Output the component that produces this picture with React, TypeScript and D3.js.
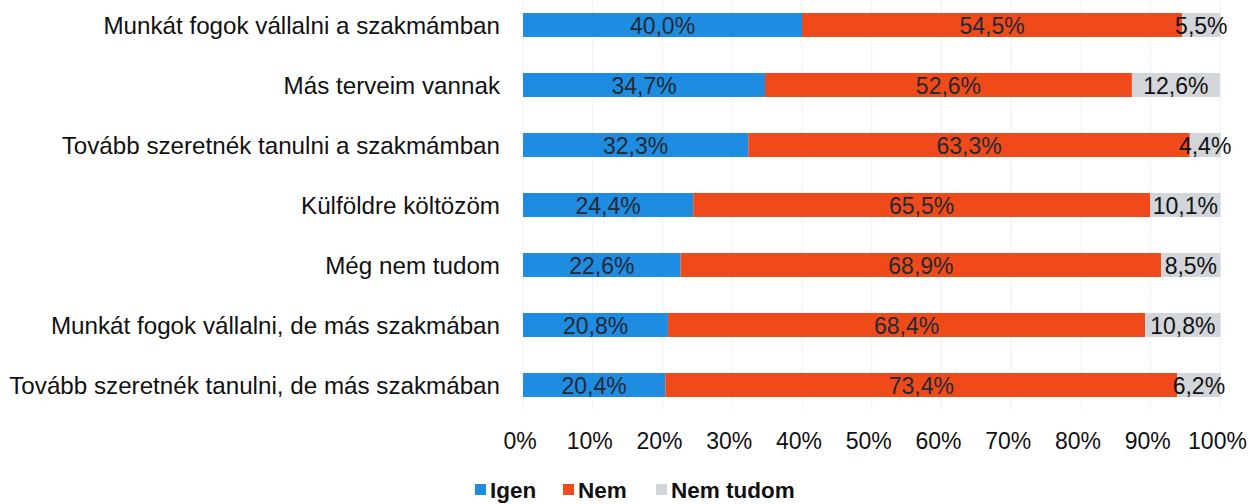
import React from "react";
import * as d3 from "d3";

const categories = [
  "Munkát fogok vállalni a szakmámban",
  "Más terveim vannak",
  "Tovább szeretnék tanulni a szakmámban",
  "Külföldre költözöm",
  "Még nem tudom",
  "Munkát fogok vállalni, de más szakmában",
  "Tovább szeretnék tanulni, de más szakmában",
];
const igen = [40.0, 34.7, 32.3, 24.4, 22.6, 20.8, 20.4];
const nem = [54.5, 52.6, 63.3, 65.5, 68.9, 68.4, 73.4];
const nemTudom = [5.5, 12.6, 4.4, 10.1, 8.5, 10.8, 6.2];
const seriesNames = ["Igen", "Nem", "Nem tudom"];
const ticks = [0, 10, 20, 30, 40, 50, 60, 70, 80, 90, 100];

const colors = ["#1E8CE0", "#F04A1A", "#D2D5D9"];

export default function App() {
  const W = 1258, H = 504;
  const x = d3.scaleLinear().domain([0, 100]).range([523, 1220.5]);
  const y = d3.scaleBand().domain(categories).range([-5, 415]).paddingInner(0.6).paddingOuter(0.3);
  const series = [igen, nem, nemTudom];
  const font = "'Liberation Sans', Arial, sans-serif";
  const fmt = (v: number) => v.toFixed(1).replace(".", ",") + "%";

  const legendItems = [
    { x: 475, label: seriesNames[0] },
    { x: 563, label: seriesNames[1] },
    { x: 656, label: seriesNames[2] },
  ];

  return (
    <svg width={W} height={H} style={{ position: "absolute", left: 0, top: 0, background: "#fff" }} fontFamily={font}>
      {ticks.map((t) => (
        <line key={"g" + t} x1={x(t)} x2={x(t)} y1={0} y2={410} stroke="#f2f2f2" strokeWidth={1} />
      ))}
      {categories.map((c, i) => {
        let acc = 0;
        const bw = y.bandwidth();
        const y0 = y(c)!;
        return (
          <g key={c}>
            <text x={500} y={y0 + bw / 2} textAnchor="end" dominantBaseline="central" fontSize={24.2} fill="#111">
              {c}
            </text>
            {series.map((s, j) => {
              const v = s[i];
              const x0 = x(acc);
              acc += v;
              const x1 = x(acc);
              return (
                <g key={j}>
                  <rect x={x0} y={y0} width={x1 - x0} height={bw} fill={colors[j]} />
                  <text
                    x={(x0 + x1) / 2}
                    y={y0 + bw / 2 + 1}
                    textAnchor="middle"
                    dominantBaseline="central"
                    fontSize={23}
                    fill={j === 2 ? "#111" : "#232a35"}
                  >
                    {fmt(v)}
                  </text>
                </g>
              );
            })}
          </g>
        );
      })}
      {ticks.map((t) => (
        <text key={"t" + t} x={x(t) - 3} y={441} textAnchor="middle" dominantBaseline="central" fontSize={23} fill="#111">
          {t}%
        </text>
      ))}
      {legendItems.map((l, i) => (
        <g key={l.label}>
          <rect x={l.x} y={484} width={11} height={11} fill={colors[i]} />
          <text x={l.x + 15} y={490} dominantBaseline="central" fontSize={22.5} fontWeight="bold" fill="#111">
            {l.label}
          </text>
        </g>
      ))}
    </svg>
  );
}
